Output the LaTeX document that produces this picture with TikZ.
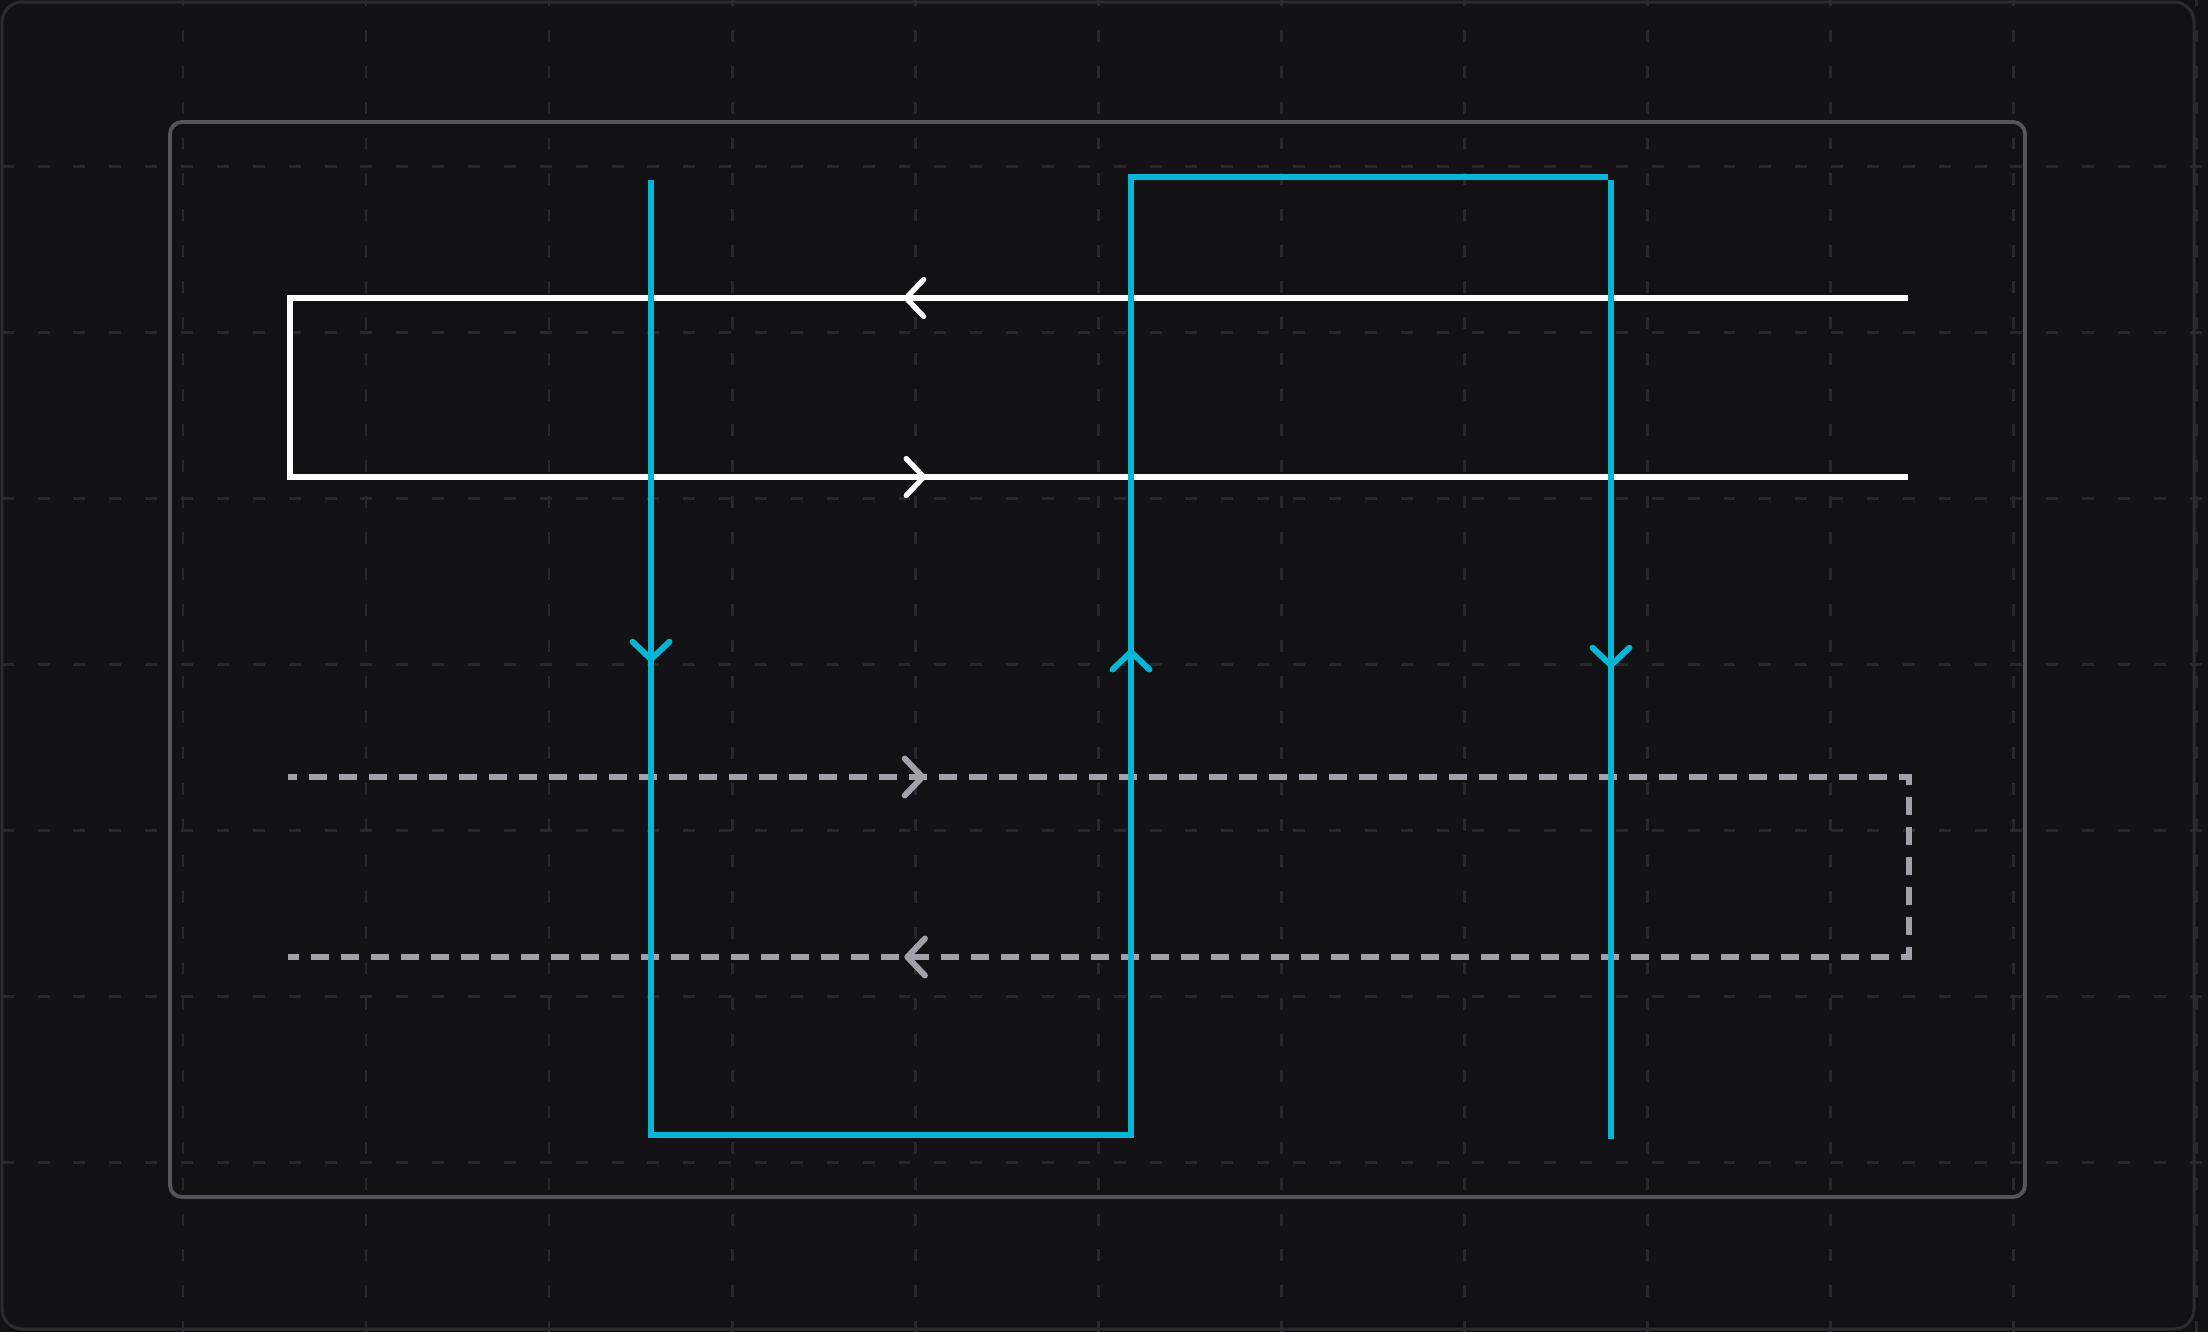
\documentclass[tikz,border=0pt]{standalone}
\usepackage{xcolor}
\usepackage{tikz}
\usetikzlibrary{arrows.meta,decorations.markings}
\definecolor{bgdark}{HTML}{121215}
\definecolor{gridline}{HTML}{28282C}
\definecolor{framegray}{HTML}{2C2C30}
\definecolor{panelgray}{HTML}{55555C}
\definecolor{loopgray}{HTML}{A1A1AA}
\definecolor{wirecyan}{HTML}{06B6D4}
\tikzset{chev/.tip={Straight Barb[length=5pt,width=10.5pt,round]}}

\begin{document}
\begin{tikzpicture}[x=0.01cm,y=-0.01cm,
    gridln/.style={draw=gridline,line width=0.85pt,dash pattern=on 3.4pt off 6.8pt},
    mid/.style={postaction={decorate,decoration={markings,mark=at position #1 with {\arrow{chev}}}}}]
  \fill[bgdark] (0,0) rectangle (2208,1332);
  \useasboundingbox (0,0) rectangle (2208,1332);
  %grid%
  \foreach \gx in {1,...,12}
    \draw[gridln,dash phase=1.7pt] (\gx*183,0) -- (\gx*183,1332);
  \foreach \gy in {1,...,7}
    \draw[gridln,dash phase=9.7pt] (0,\gy*166) -- (2208,\gy*166);
  \draw[framegray,line width=0.85pt,rounded corners=5.7pt] (2,2) rectangle (2194,1329); %outer frame%
  \draw[panelgray,line width=1.1pt,rounded corners=3.4pt] (170,122) rectangle (2025,1197); %panel%

  \coordinate (wTR) at (1908,298);
  \coordinate (wTL) at (290,298);
  \coordinate (wBL) at (290,477);
  \coordinate (wBR) at (1908,477);
  \coordinate (gTL) at (288,777);
  \coordinate (gTR) at (1909,777);
  \coordinate (gBR) at (1909,957);
  \coordinate (gBL) at (288,957);
  \coordinate (c1) at (651,180);
  \coordinate (c2) at (651,1135);
  \coordinate (c3) at (1131,1135);
  \coordinate (c4) at (1131,177);
  \coordinate (c5) at (1608,177);
  \coordinate (c6) at (1611,180);
  \coordinate (c7) at (1611,1139);

  \draw[white,line width=1.5pt,mid=10.04cm,mid=24.32cm] (wTR) -- (wTL) -- (wBL) -- (wBR); %solid loop%
  \draw[loopgray,line width=1.7pt,dash pattern=on 5.12pt off 3.41pt,dash phase=2.56pt,
        mid=6.37cm,mid=28.04cm] (gTL) -- (gTR) -- (gBR) -- (gBL); %dashed loop%
  \draw[wirecyan,line width=1.7pt,mid=4.82cm,mid=19.20cm]
        (c1) -- (c2) -- (c3) -- (c4) -- (c5); %wire%
  \draw[wirecyan,line width=1.7pt,mid=4.88cm] (c6) -- (c7);
\end{tikzpicture}
\end{document}
